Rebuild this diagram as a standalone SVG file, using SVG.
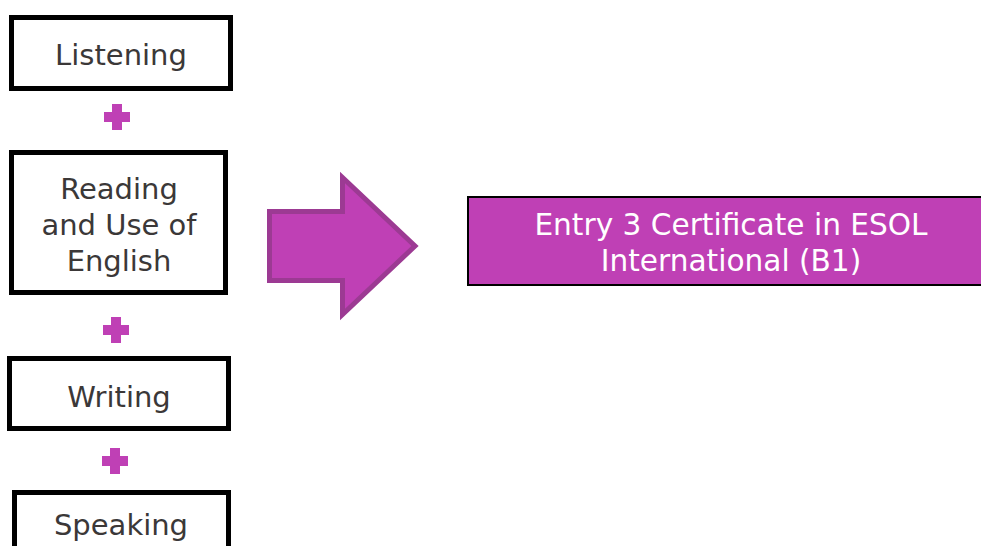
<svg xmlns="http://www.w3.org/2000/svg" width="981" height="546" viewBox="0 0 981 546">
<style>
.box{fill:#fff;stroke:#000;stroke-width:5}
.t{font-family:"DejaVu Sans",Verdana,sans-serif;font-size:29px;fill:#3b3838;text-anchor:middle}
.w{font-family:"DejaVu Sans",Verdana,sans-serif;font-size:29.6px;fill:#fff;text-anchor:middle}
.plus{fill:#bf40b5}
</style>
<defs>
<path id="plus" class="plus" d="M-5,-13 H5 V-5 H13 V5 H5 V13 H-5 V5 H-13 V-5 H-5 Z"/>
</defs>
<g id="listening">
<rect class="box" x="11.5" y="17.5" width="219" height="71"/>
<text class="t" x="121" y="65">Listening</text>
</g>
<g id="reading">
<rect class="box" x="11.5" y="152.5" width="214" height="140"/>
<text class="t" x="119" y="199">Reading</text>
<text class="t" x="119" y="235">and Use of</text>
<text class="t" x="119" y="271">English</text>
</g>
<g id="writing">
<rect class="box" x="9.5" y="358.5" width="219" height="70"/>
<text class="t" x="119" y="407">Writing</text>
</g>
<g id="speaking">
<rect class="box" x="14.5" y="492.5" width="214" height="70"/>
<text class="t" x="121" y="535">Speaking</text>
</g>
<g id="connectors">
<use href="#plus" x="117" y="117"/>
<use href="#plus" x="116" y="330"/>
<use href="#plus" x="115" y="461"/>
<path d="M269.5,211.5 H342.5 V177.5 L415,246 L342.5,314.5 V280.5 H269.5 Z" fill="#bf40b5" stroke="#9c3a93" stroke-width="5" stroke-linejoin="miter"/>
</g>
<g id="result">
<rect x="468" y="197" width="530" height="88" fill="#bf40b5" stroke="#000" stroke-width="2"/>
<text class="w" x="731" y="235">Entry 3 Certificate in ESOL</text>
<text class="w" x="731" y="271">International (B1)</text>
</g>
</svg>
